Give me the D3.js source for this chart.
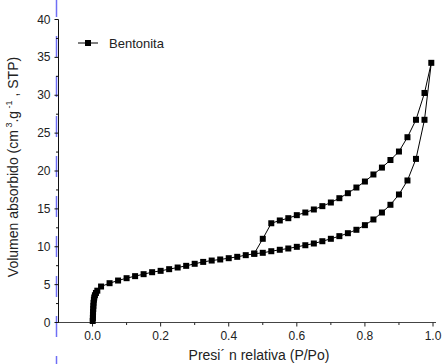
<!DOCTYPE html>
<html>
<head>
<meta charset="utf-8">
<script src="https://cdn.jsdelivr.net/npm/d3@7"></script>
<style>
  html, body { margin: 0; padding: 0; background: #fff; }
  svg { display: block; font-family: "Liberation Sans", Arial, sans-serif; }
</style>
</head>
<body>
<svg id="chart" width="443" height="364"></svg>
<script>
// relative pressure (P/Po) and adsorbed volume, adsorption then desorption branch
const adsP = [0.0005, 0.001, 0.0012, 0.0015, 0.002, 0.0025, 0.003, 0.004, 0.005, 0.007, 0.01, 0.014,
  0.025, 0.05, 0.075, 0.10, 0.125, 0.15, 0.175, 0.20, 0.225, 0.25, 0.275, 0.30, 0.325, 0.35, 0.375,
  0.40, 0.425, 0.45, 0.475, 0.50, 0.525, 0.55, 0.575, 0.60, 0.625, 0.65, 0.675, 0.70, 0.725, 0.75,
  0.775, 0.80, 0.825, 0.85, 0.875, 0.90, 0.925, 0.95, 0.975, 0.995];
const adsV = [0.2, 0.6, 1.0, 1.4, 1.8, 2.2, 2.6, 3.0, 3.3, 3.6, 3.9, 4.2,
  4.75, 5.19, 5.54, 5.85, 6.12, 6.38, 6.64, 6.82, 7.04, 7.26, 7.48, 7.75, 8.0, 8.18, 8.32,
  8.49, 8.67, 8.89, 9.07, 9.2, 9.41, 9.6, 9.77, 9.99, 10.2, 10.43, 10.73, 11.05, 11.4, 11.79,
  12.24, 12.85, 13.6, 14.52, 15.54, 16.9, 18.75, 21.6, 26.76, 34.28];
const desP = [0.975, 0.95, 0.925, 0.90, 0.875, 0.85, 0.825, 0.80, 0.775, 0.75, 0.725, 0.70,
  0.675, 0.65, 0.625, 0.60, 0.575, 0.55, 0.525, 0.50, 0.475];
const desV = [30.3, 26.76, 24.46, 22.57, 21.45, 20.45, 19.54, 18.61, 17.82, 17.07, 16.41, 15.84,
  15.36, 14.92, 14.52, 14.17, 13.77, 13.47, 13.1, 11.05, 9.1];

const xTicks = [0.0, 0.2, 0.4, 0.6, 0.8, 1.0];
const xMinor = [0.1, 0.3, 0.5, 0.7, 0.9];
const yTicks = [0, 5, 10, 15, 20, 25, 30, 35, 40];
const yMinor = [2.5, 7.5, 12.5, 17.5, 22.5, 27.5, 32.5, 37.5];
const seriesName = 'Bentonita';

const points = adsP.map((p, i) => ({ p, v: adsV[i] }))
  .concat(desP.map((p, i) => ({ p, v: desV[i] })));

const svg = d3.select('#chart');

const x = d3.scaleLinear().domain([-0.1, 1.0]).range([58.5, 433]);
const y = d3.scaleLinear().domain([0, 40]).range([322.5, 19.5]);

// stray blue dashed guide left of the y axis
svg.append('line')
  .attr('x1', 56.5).attr('x2', 56.5)
  .attr('y1', -4).attr('y2', 364)
  .attr('stroke', '#6f6ff5')
  .attr('stroke-width', 1.5)
  .attr('stroke-dasharray', '21,19');

// x axis
const xAxis = svg.append('g').attr('transform', `translate(0,${y(0)})`);
xAxis.append('line')
  .attr('x1', 57).attr('x2', 436)
  .attr('stroke', '#444');
xAxis.selectAll('.maj').data(xTicks).enter().append('line')
  .attr('x1', d => x(d)).attr('x2', d => x(d))
  .attr('y1', 0).attr('y2', 4)
  .attr('stroke', '#222');
xAxis.selectAll('.min').data(xMinor).enter().append('line')
  .attr('x1', d => x(d)).attr('x2', d => x(d))
  .attr('y1', 0).attr('y2', 2.5)
  .attr('stroke', '#222');
xAxis.selectAll('text').data(xTicks).enter().append('text')
  .attr('x', d => x(d))
  .attr('y', 17)
  .attr('text-anchor', 'middle')
  .attr('font-size', '12px')
  .attr('fill', '#222')
  .text(d => d3.format('.1f')(d));

// y axis
const yAxis = svg.append('g').attr('transform', `translate(${x(-0.1)},0)`);
yAxis.append('line')
  .attr('y1', y(40)).attr('y2', y(0))
  .attr('stroke', '#111');
yAxis.selectAll('.maj').data(yTicks).enter().append('line')
  .attr('x1', -4).attr('x2', 0)
  .attr('y1', d => y(d)).attr('y2', d => y(d))
  .attr('stroke', '#111');
yAxis.selectAll('.min').data(yMinor).enter().append('line')
  .attr('x1', -2.5).attr('x2', 0)
  .attr('y1', d => y(d)).attr('y2', d => y(d))
  .attr('stroke', '#111');
yAxis.selectAll('text').data(yTicks).enter().append('text')
  .attr('x', -8)
  .attr('y', d => y(d) + 4)
  .attr('text-anchor', 'end')
  .attr('font-size', '12px')
  .attr('fill', '#222')
  .text(d => d);

// axis titles
svg.append('text')
  .attr('x', 259).attr('y', 360)
  .attr('text-anchor', 'middle')
  .attr('font-size', '14px')
  .attr('fill', '#222')
  .text('Presi\u00b4 n relativa (P/Po)');

const yTitle = svg.append('text')
  .attr('transform', 'translate(18,167) rotate(-90)')
  .attr('text-anchor', 'middle')
  .attr('font-size', '14px')
  .attr('fill', '#222');
yTitle.append('tspan').text('Volumen absorbido (cm');
yTitle.append('tspan').attr('dy', -6).attr('font-size', '9px').text(' 3');
yTitle.append('tspan').attr('dy', 6).text('.g');
yTitle.append('tspan').attr('dy', -6).attr('font-size', '9px').text(' -1');
yTitle.append('tspan').attr('dy', 6).text(' , STP)');

// series line and markers
const line = d3.line().x(d => x(d.p)).y(d => y(d.v));
svg.append('path')
  .datum(points)
  .attr('d', line)
  .attr('fill', 'none')
  .attr('stroke', '#000')
  .attr('stroke-width', 1);

const ms = 6;
svg.append('g').selectAll('rect').data(points).enter().append('rect')
  .attr('x', d => x(d.p) - ms / 2)
  .attr('y', d => y(d.v) - ms / 2)
  .attr('width', ms).attr('height', ms)
  .attr('fill', '#000');

// legend
const lg = svg.append('g').attr('transform', 'translate(78,43)');
lg.append('line').attr('x1', 0).attr('x2', 20).attr('stroke', '#000');
lg.append('rect').attr('x', 10 - ms / 2).attr('y', -ms / 2)
  .attr('width', ms).attr('height', ms).attr('fill', '#000');
lg.append('text')
  .attr('x', 31).attr('y', 4.5)
  .attr('font-size', '13px')
  .attr('fill', '#222')
  .text(seriesName);
</script>
</body>
</html>
